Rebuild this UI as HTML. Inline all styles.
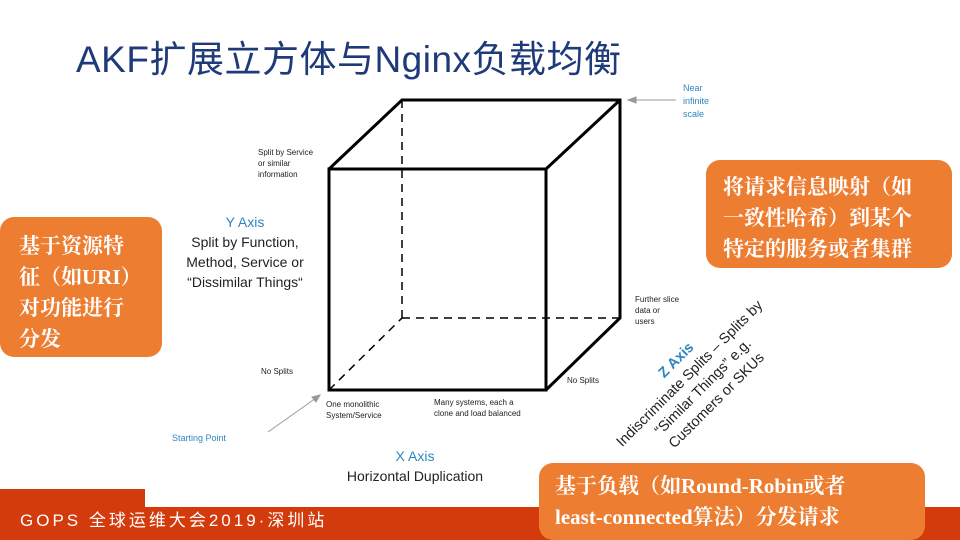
<!DOCTYPE html>
<html><head><meta charset="utf-8"><style>
body{margin:0;width:960px;height:540px;position:relative;overflow:hidden;background:#fff;font-family:"Liberation Sans","Noto Sans CJK SC",sans-serif}
.a{position:absolute}
.s{font-size:8px;color:#222;line-height:11px}
.box{position:absolute;background:#ed7d31;color:#fff;border-radius:14px;font-family:"Liberation Serif","Noto Serif CJK SC",serif;font-weight:bold;font-size:21px;line-height:31px}
.blue{color:#2e86c1}
</style></head><body>
<div class="a" style="left:76px;top:29px;font-size:37px;color:#1f3a78;letter-spacing:0.5px">AKF扩展立方体与Nginx负载均衡</div>
<svg class="a" style="left:0;top:0" width="960" height="540">
<g stroke="#000" stroke-width="3" fill="none">
<rect x="329" y="169" width="217" height="221"/>
<polyline points="329,169 402,100 620,100 620,318 546,390"/>
<line x1="546" y1="169" x2="620" y2="100"/>
</g>
<g stroke="#000" stroke-width="1.5" stroke-dasharray="8,6" fill="none">
<line x1="402" y1="100" x2="402" y2="318"/>
<line x1="402" y1="318" x2="620" y2="318"/>
<line x1="329" y1="390" x2="402" y2="318"/>
</g>
<g stroke="#999" stroke-width="1" fill="#999">
<line x1="676" y1="100" x2="632" y2="100"/><polygon points="628,100 636,97 636,103"/>
<line x1="268" y1="432" x2="316" y2="398"/><polygon points="320,395 312,397 316,402"/>
</g>
</svg>
<div class="a s blue" style="left:683px;top:82px;font-size:9px;line-height:13px">Near<br>infinite<br>scale</div>
<div class="a s" style="left:258px;top:147px">Split by Service<br>or similar<br>information</div>
<div class="a" style="left:170px;top:212px;width:150px;text-align:center;font-size:14px;line-height:20px;color:#222"><span class="blue">Y Axis</span><br>Split by Function,<br>Method, Service or<br>“Dissimilar Things“</div>
<div class="a s" style="left:635px;top:294px">Further slice<br>data or<br>users</div>
<div class="a s" style="left:261px;top:366px">No Splits</div>
<div class="a s" style="left:567px;top:375px">No Splits</div>
<div class="a s" style="left:326px;top:399px">One monolithic<br>System/Service</div>
<div class="a s" style="left:434px;top:397px">Many systems, each a<br>clone and load balanced</div>
<div class="a s blue" style="left:172px;top:433px;font-size:9px">Starting Point</div>
<div class="a" style="left:340px;top:446px;width:150px;text-align:center;font-size:14px;line-height:20px;color:#222"><span class="blue">X Axis</span><br>Horizontal Duplication</div>
<div class="a" style="left:572px;top:343px;width:250px;text-align:center;font-size:14.5px;line-height:19px;color:#222;transform:rotate(-45deg);transform-origin:center"><b class="blue">Z Axis</b><br>Indiscriminate Splits – Splits by<br>“Similar Things” e.g.<br>Customers or SKUs</div>
<div class="box" style="left:0;top:217px;width:162px;height:140px;padding:14px 0 0 19px;box-sizing:border-box">基于资源特<br>征（如URI）<br>对功能进行<br>分发</div>
<div class="box" style="left:706px;top:160px;width:246px;height:108px;padding:12px 0 0 17px;box-sizing:border-box">将请求信息映射（如<br>一致性哈希）到某个<br>特定的服务或者集群</div>
<div class="a" style="left:0;top:489px;width:960px;height:51px;background:#d33a0c"></div>
<div class="a" style="left:145px;top:489px;width:815px;height:18px;background:#fff"></div>
<div class="a" style="left:20px;top:506px;color:#fff;font-size:17px;letter-spacing:3px">GOPS 全球运维大会2019·深圳站</div>
<div class="box" style="left:539px;top:463px;width:386px;height:77px;padding:8px 0 0 16px;box-sizing:border-box">基于负载（如Round-Robin或者<br>least-connected算法）分发请求</div>
</body></html>
